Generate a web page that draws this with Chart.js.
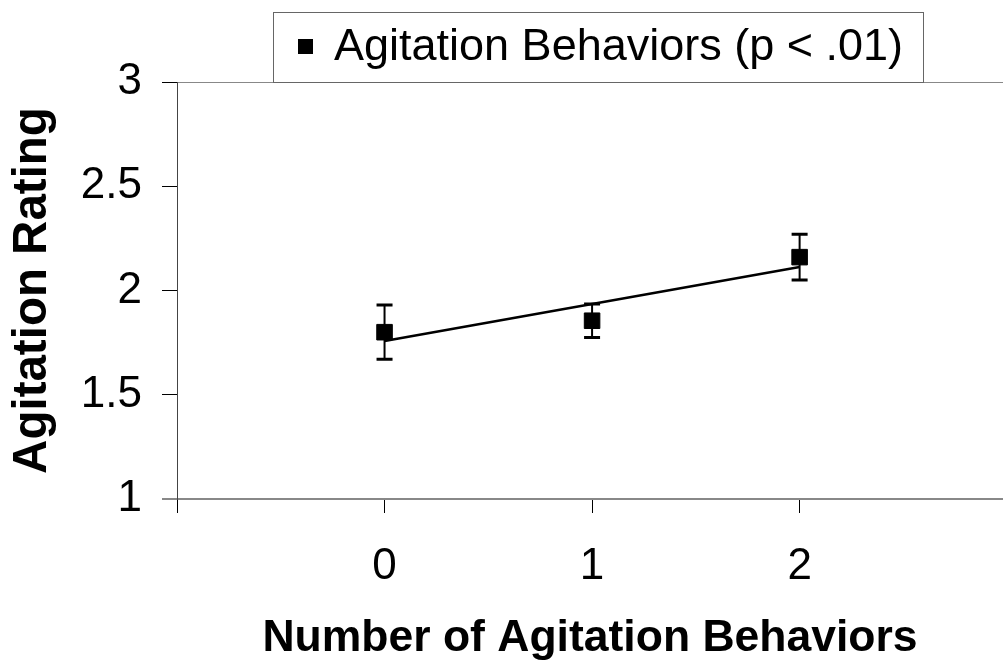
<!DOCTYPE html>
<html>
<head>
<meta charset="utf-8">
<script src="https://cdn.jsdelivr.net/npm/chart.js@4.4.1/dist/chart.umd.min.js"></script>
<style>
    html, body { margin: 0; padding: 0; background: #fff; }
    #wrap { width: 1003px; height: 662px; }
</style>
</head>
<body>
<div id="wrap"><canvas id="agitation-chart" width="1003" height="662"></canvas></div>
<script>
const behaviorCounts = [0, 1, 2];
const meanRatings = [1.80, 1.855, 2.16];
const errorMargins = [0.13, 0.08, 0.11];
const trendCounts = [0, 2];
const trendRatings = [1.758, 2.113];
const xTickValues = [-1, 0, 1, 2];
const yTickValues = [1, 1.5, 2, 2.5, 3];
const seriesLabel = 'Agitation Behaviors (p < .01)';

const FONT = '"Liberation Sans", Arial, sans-serif';

// vertical error bars with flat caps, drawn under the markers
const errorBarPlugin = {
    id: 'errorBars',
    beforeDatasetsDraw(chart) {
        const { ctx, scales: { x, y } } = chart;
        ctx.save();
        ctx.strokeStyle = '#000';
        behaviorCounts.forEach((count, i) => {
            const px = x.getPixelForValue(count);
            const top = y.getPixelForValue(meanRatings[i] + errorMargins[i]);
            const bottom = y.getPixelForValue(meanRatings[i] - errorMargins[i]);
            ctx.lineWidth = 2;
            ctx.beginPath();
            ctx.moveTo(px, top);
            ctx.lineTo(px, bottom);
            ctx.stroke();
            ctx.lineWidth = 3;
            ctx.beginPath();
            ctx.moveTo(px - 8, top);
            ctx.lineTo(px + 8, top);
            ctx.moveTo(px - 8, bottom);
            ctx.lineTo(px + 8, bottom);
            ctx.stroke();
        });
        ctx.restore();
    }
};

// boxed legend sitting on the top edge of the plot
const boxedLegendPlugin = {
    id: 'boxedLegend',
    afterDraw(chart) {
        const { ctx } = chart;
        ctx.save();
        ctx.fillStyle = '#fff';
        ctx.fillRect(273, 12, 650, 70);
        ctx.strokeStyle = '#666';
        ctx.lineWidth = 1;
        ctx.strokeRect(273.5, 12.5, 650, 70);
        ctx.fillStyle = '#000';
        ctx.fillRect(298, 39, 15, 15);
        ctx.font = '45px ' + FONT;
        ctx.textBaseline = 'middle';
        ctx.textAlign = 'left';
        ctx.fillText(chart.data.datasets[0].label, 334, 48);
        ctx.restore();
    }
};

const chart = new Chart(document.getElementById('agitation-chart'), {
    type: 'scatter',
    data: {
        datasets: [{
            label: seriesLabel,
            data: behaviorCounts.map((count, i) => ({ x: count, y: meanRatings[i] })),
            pointStyle: 'rect',
            pointRadius: 11,
            backgroundColor: '#000',
            borderColor: '#000',
            borderWidth: 1
        }, {
            label: 'trend',
            type: 'line',
            data: trendCounts.map((count, i) => ({ x: count, y: trendRatings[i] })),
            borderColor: '#000',
            borderWidth: 2.5,
            pointRadius: 0,
            fill: false
        }]
    },
    options: {
        responsive: false,
        animation: false,
        layout: { autoPadding: false, padding: { top: 82, right: 0, left: 0, bottom: 0 } },
        plugins: {
            legend: { display: false },
            tooltip: { enabled: false }
        },
        scales: {
            x: {
                type: 'linear',
                min: -1,
                max: 2.98,
                afterBuildTicks: (axis) => { axis.ticks = xTickValues.map((value) => ({ value })); },
                afterFit: (axis) => {
                    axis.height = 163;
                    axis.paddingLeft = 0;
                    axis.paddingRight = 0;
                },
                ticks: {
                    callback: (value) => (value === -1 ? '' : String(value)),
                    color: '#000',
                    font: { family: FONT, size: 44 },
                    padding: 27,
                    maxRotation: 0
                },
                grid: {
                    drawOnChartArea: false,
                    tickLength: 14,
                    tickColor: '#000',
                    lineWidth: 1
                },
                border: { color: '#888', width: 2 },
                title: {
                    display: true,
                    text: 'Number of Agitation Behaviors',
                    color: '#000',
                    font: { family: FONT, size: 44.5, weight: 'bold', lineHeight: 1 },
                    padding: { top: 0, bottom: 1 }
                }
            },
            y: {
                min: 1,
                max: 3,
                afterBuildTicks: (axis) => { axis.ticks = yTickValues.map((value) => ({ value })); },
                afterFit: (axis) => { axis.width = 177; },
                ticks: {
                    callback: (value) => String(value),
                    color: '#000',
                    font: { family: FONT, size: 44 },
                    padding: 20
                },
                grid: {
                    drawOnChartArea: true,
                    tickLength: 15,
                    color: (ctx) => (ctx.tick && ctx.tick.value === 3 ? '#888' : 'rgba(0,0,0,0)'),
                    tickColor: (ctx) => (ctx.tick && ctx.tick.value === 1 ? '#888' : '#000'),
                    lineWidth: (ctx) => (ctx.tick && ctx.tick.value === 1 ? 2 : 1)
                },
                border: { color: '#444', width: 1 },
                title: {
                    display: true,
                    text: 'Agitation Rating',
                    color: '#000',
                    font: { family: FONT, size: 47.5, weight: 'bold', lineHeight: 1 },
                    padding: { top: 9, bottom: 0 }
                }
            }
        }
    },
    plugins: [errorBarPlugin, boxedLegendPlugin]
});
</script>
</body>
</html>
